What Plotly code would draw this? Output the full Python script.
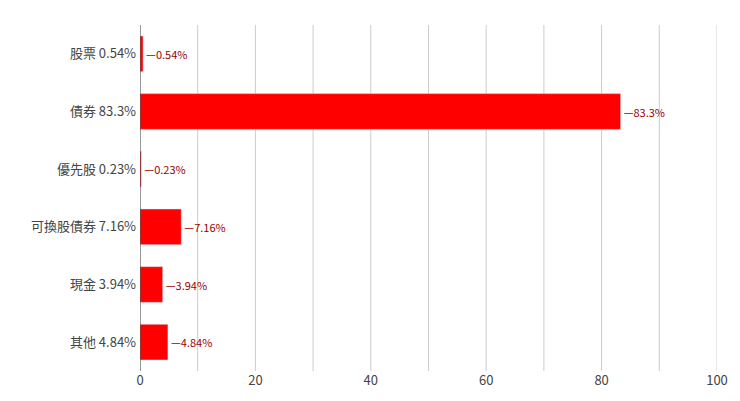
import plotly.graph_objects as go

categories = ["股票 0.54%", "債券 83.3%", "優先股 0.23%", "可換股債券 7.16%", "現金 3.94%", "其他 4.84%"]
values = [0.54, 83.3, 0.23, 7.16, 3.94, 4.84]
labels = ["0.54%", "83.3%", "0.23%", "7.16%", "3.94%", "4.84%"]

fig = go.Figure(go.Bar(
    y=categories, x=values, orientation="h",
    marker=dict(color="#ff0000"),
    text=["—" + t for t in labels], textposition="outside", cliponaxis=False,
    textfont=dict(color="#990000", size=11, family="Noto Sans CJK TC"),
))
fig.update_layout(
    width=740, height=401, plot_bgcolor="white", paper_bgcolor="white",
    margin=dict(l=132, r=31, t=17, b=38), bargap=0.38, showlegend=False,
    font=dict(family="Noto Sans CJK TC", size=13, color="#444"),
)
fig.update_yaxes(autorange="reversed", showline=False, ticks="", ticksuffix=" ", automargin=False)
fig.update_xaxes(range=[0, 100], tickvals=[0, 20, 40, 60, 80, 100], automargin=False,
                 showgrid=False, zeroline=False, showline=False)
for v in range(10, 101, 10):
    fig.add_vline(x=v, line=dict(color="#cccccc", width=1), layer="below")
fig.add_vline(x=0, line=dict(color="#333333", width=1))
fig.write_html("out.html")
